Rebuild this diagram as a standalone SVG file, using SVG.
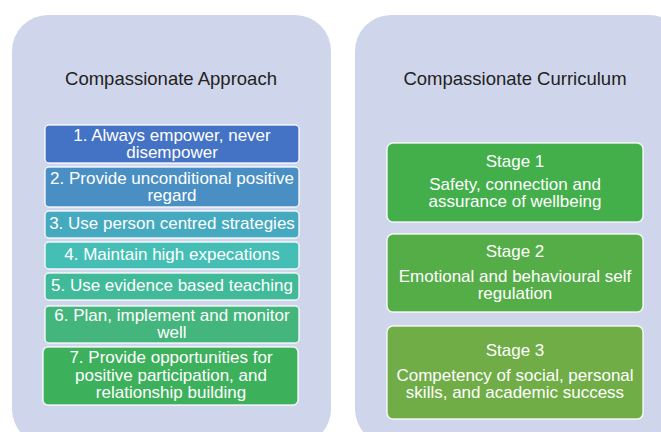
<svg xmlns="http://www.w3.org/2000/svg" width="661" height="432" viewBox="0 0 661 432">
<style>
.panel{fill:#cfd5ea}
.title{font-family:"Liberation Sans",Arial,sans-serif;font-size:18.5px;fill:#222;text-anchor:middle}
.box{stroke:#ffffff;stroke-width:1.5;stroke-opacity:0.85}
.t{font-family:"Liberation Sans",Arial,sans-serif;font-size:17px;fill:#ffffff;text-anchor:middle}
</style>
<rect width="661" height="432" fill="#ffffff"/>
<g id="panel-approach">
<rect class="panel" x="12" y="15" width="319" height="430" rx="36"/>
<text class="title" x="171" y="85">Compassionate Approach</text>
</g>
<g id="panel-curriculum">
<rect class="panel" x="355" y="15" width="330" height="430" rx="36"/>
<text class="title" x="515" y="85">Compassionate Curriculum</text>
</g>
<g id="item1"><rect class="box" x="45" y="125" width="254" height="38" rx="4" fill="#4472c4"/>
<text class="t" x="172" y="141">1. Always empower, never</text><text class="t" x="172" y="158">disempower</text></g>
<g id="item2"><rect class="box" x="45" y="167" width="254" height="40" rx="4" fill="#4a8fc3"/>
<text class="t" x="172" y="184">2. Provide unconditional positive</text><text class="t" x="172" y="201">regard</text></g>
<g id="item3"><rect class="box" x="45" y="211" width="254" height="27" rx="4" fill="#45a9c0"/>
<text class="t" x="172" y="229">3. Use person centred strategies</text></g>
<g id="item4"><rect class="box" x="45" y="242" width="254" height="27" rx="4" fill="#45bfb6"/>
<text class="t" x="172" y="260">4. Maintain high expecations</text></g>
<g id="item5"><rect class="box" x="45" y="273" width="254" height="27" rx="4" fill="#40ba98"/>
<text class="t" x="172" y="291">5. Use evidence based teaching</text></g>
<g id="item6"><rect class="box" x="45" y="306" width="254" height="37" rx="4" fill="#44b57c"/>
<text class="t" x="172" y="321">6. Plan, implement  and monitor</text><text class="t" x="172" y="338">well</text></g>
<g id="item7"><rect class="box" x="43" y="347" width="255" height="58" rx="5" fill="#3db05c"/>
<text class="t" x="171" y="363">7. Provide opportunities for</text><text class="t" x="171" y="381">positive participation, and</text><text class="t" x="171" y="398">relationship building</text></g>
<g id="stage1"><rect class="box" x="387" y="143" width="256" height="79" rx="6" fill="#43af4b"/>
<text class="t" x="515" y="167">Stage 1</text><text class="t" x="515" y="190">Safety, connection and</text><text class="t" x="515" y="207">assurance of wellbeing</text></g>
<g id="stage2"><rect class="box" x="387" y="234" width="256" height="78" rx="6" fill="#55ad47"/>
<text class="t" x="515" y="257">Stage 2</text><text class="t" x="515" y="282">Emotional and behavioural self</text><text class="t" x="515" y="299">regulation</text></g>
<g id="stage3"><rect class="box" x="387" y="326" width="256" height="93" rx="6" fill="#70ad47"/>
<text class="t" x="515" y="356">Stage 3</text><text class="t" x="515" y="381">Competency of social, personal</text><text class="t" x="515" y="398">skills, and academic success</text></g>
<g id="connectors"></g>
</svg>
